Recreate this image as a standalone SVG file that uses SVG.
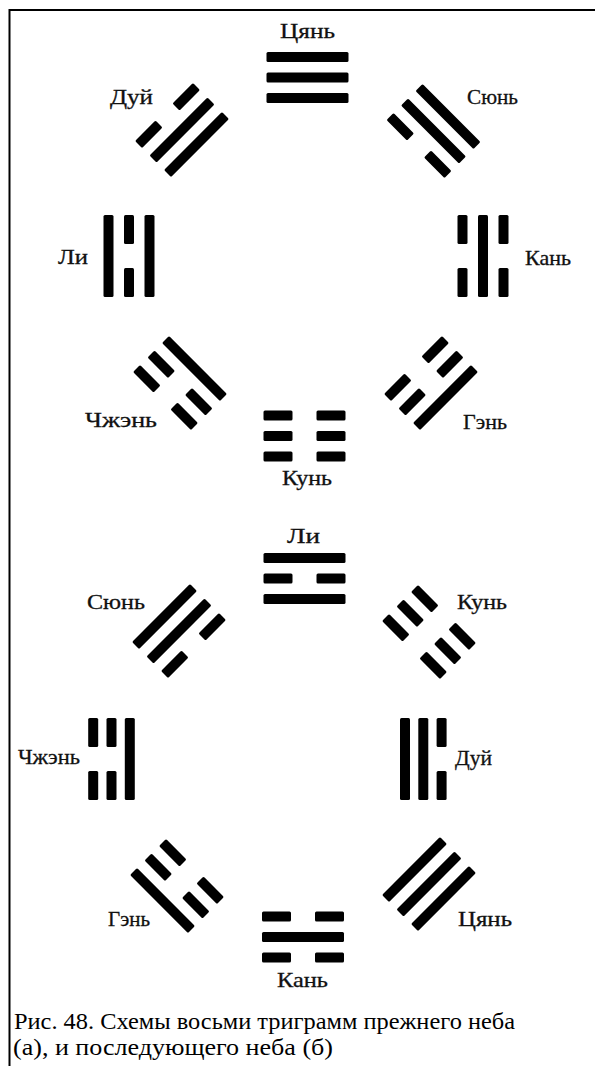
<svg xmlns="http://www.w3.org/2000/svg" xmlns:xlink="http://www.w3.org/1999/xlink" width="595" height="1066" viewBox="0 0 595 1066">
  <style>
    .bar { fill: #000; }
    .lbl { font-family: "Liberation Serif", "DejaVu Serif", serif; font-size: 21px; fill: #111; stroke: #111; stroke-width: 0.3; }
    .cap { font-family: "Liberation Serif", "Times New Roman", serif; font-size: 24px; fill: #000; }
    .frame { stroke: #000; stroke-width: 2; fill: none; }
  </style>
  <defs>
    <!-- solid (yang) line and broken (yin) line, centred on the origin -->
    <rect id="yang" class="bar" x="-41" y="-5" width="82" height="10" rx="1.5"/>
    <g id="yin" class="bar">
      <rect x="-41" y="-5" width="29" height="10" rx="1.5"/>
      <rect x="12" y="-5" width="29" height="10" rx="1.5"/>
    </g>
  </defs>

  <rect width="595" height="1066" fill="#fff"/>

  <!-- frame -->
  <path class="frame" d="M9.5 1066 V10 H595"/>

  <!-- (a) earlier heaven: lines listed outer to inner -->
  <g id="a-qian" transform="translate(307.5,77.5) rotate(0)">
    <use href="#yang" y="-20.5"/><use href="#yang" y="0"/><use href="#yang" y="20.5"/>
  </g>
  <g id="a-xun" transform="translate(433.5,131) rotate(45)">
    <use href="#yang" y="-20.5"/><use href="#yang" y="0"/><use href="#yin" y="20.5"/>
  </g>
  <g id="a-kan" transform="translate(483,256) rotate(90)">
    <use href="#yin" y="-20.5"/><use href="#yang" y="0"/><use href="#yin" y="20.5"/>
  </g>
  <g id="a-gen" transform="translate(431,383) rotate(135)">
    <use href="#yang" y="-20.5"/><use href="#yin" y="0"/><use href="#yin" y="20.5"/>
  </g>
  <g id="a-kun" transform="translate(304.5,436) rotate(180)">
    <use href="#yin" y="-20.5"/><use href="#yin" y="0"/><use href="#yin" y="20.5"/>
  </g>
  <g id="a-zhen" transform="translate(180,383) rotate(225)">
    <use href="#yin" y="-20.5"/><use href="#yin" y="0"/><use href="#yang" y="20.5"/>
  </g>
  <g id="a-li" transform="translate(129,256) rotate(270)">
    <use href="#yang" y="-20.5"/><use href="#yin" y="0"/><use href="#yang" y="20.5"/>
  </g>
  <g id="a-dui" transform="translate(182,130) rotate(315)">
    <use href="#yin" y="-20.5"/><use href="#yang" y="0"/><use href="#yang" y="20.5"/>
  </g>

  <g id="a-labels">
    <text class="lbl" x="280" y="38" textLength="55" lengthAdjust="spacingAndGlyphs">Цянь</text>
    <text class="lbl" x="110" y="104" textLength="43" lengthAdjust="spacingAndGlyphs">Дуй</text>
    <text class="lbl" x="467" y="104" textLength="51" lengthAdjust="spacingAndGlyphs">Сюнь</text>
    <text class="lbl" x="58" y="264" textLength="30" lengthAdjust="spacingAndGlyphs">Ли</text>
    <text class="lbl" x="525" y="265" textLength="46" lengthAdjust="spacingAndGlyphs">Кань</text>
    <text class="lbl" x="85" y="427" textLength="72" lengthAdjust="spacingAndGlyphs">Чжэнь</text>
    <text class="lbl" x="463" y="429" textLength="44" lengthAdjust="spacingAndGlyphs">Гэнь</text>
    <text class="lbl" x="282" y="485" textLength="50" lengthAdjust="spacingAndGlyphs">Кунь</text>
  </g>

  <!-- (b) later heaven -->
  <g id="b-li" transform="translate(304.5,578.5) rotate(0)">
    <use href="#yang" y="-20.5"/><use href="#yin" y="0"/><use href="#yang" y="20.5"/>
  </g>
  <g id="b-kun" transform="translate(429,632) rotate(45)">
    <use href="#yin" y="-20.5"/><use href="#yin" y="0"/><use href="#yin" y="20.5"/>
  </g>
  <g id="b-dui" transform="translate(423.3,759) rotate(90)">
    <use href="#yin" y="-18.3"/><use href="#yang" y="0"/><use href="#yang" y="18.3"/>
  </g>
  <g id="b-qian" transform="translate(429,884) rotate(135)">
    <use href="#yang" y="-20.5"/><use href="#yang" y="0"/><use href="#yang" y="20.5"/>
  </g>
  <g id="b-kan" transform="translate(303,937) rotate(180)">
    <use href="#yin" y="-20.5"/><use href="#yang" y="0"/><use href="#yin" y="20.5"/>
  </g>
  <g id="b-gen" transform="translate(177,886) rotate(225)">
    <use href="#yang" y="-20.5"/><use href="#yin" y="0"/><use href="#yin" y="20.5"/>
  </g>
  <g id="b-zhen" transform="translate(111.5,759) rotate(270)">
    <use href="#yin" y="-18.3"/><use href="#yin" y="0"/><use href="#yang" y="18.3"/>
  </g>
  <g id="b-xun" transform="translate(179,631) rotate(315)">
    <use href="#yang" y="-20.5"/><use href="#yang" y="0"/><use href="#yin" y="20.5"/>
  </g>

  <g id="b-labels">
    <text class="lbl" x="287" y="543" textLength="33" lengthAdjust="spacingAndGlyphs">Ли</text>
    <text class="lbl" x="87" y="609" textLength="58" lengthAdjust="spacingAndGlyphs">Сюнь</text>
    <text class="lbl" x="457" y="609" textLength="50" lengthAdjust="spacingAndGlyphs">Кунь</text>
    <text class="lbl" x="18" y="764" textLength="62" lengthAdjust="spacingAndGlyphs">Чжэнь</text>
    <text class="lbl" x="455" y="765" textLength="37" lengthAdjust="spacingAndGlyphs">Дуй</text>
    <text class="lbl" x="108" y="926" textLength="42" lengthAdjust="spacingAndGlyphs">Гэнь</text>
    <text class="lbl" x="458" y="926" textLength="54" lengthAdjust="spacingAndGlyphs">Цянь</text>
    <text class="lbl" x="277" y="987" textLength="51" lengthAdjust="spacingAndGlyphs">Кань</text>
  </g>

  <!-- caption -->
  <g id="caption">
    <text class="cap" x="14" y="1029" textLength="501" lengthAdjust="spacingAndGlyphs">Рис. 48. Схемы восьми триграмм прежнего неба</text>
    <text class="cap" x="13" y="1055" textLength="320" lengthAdjust="spacingAndGlyphs">(а), и последующего неба (б)</text>
  </g>
</svg>
